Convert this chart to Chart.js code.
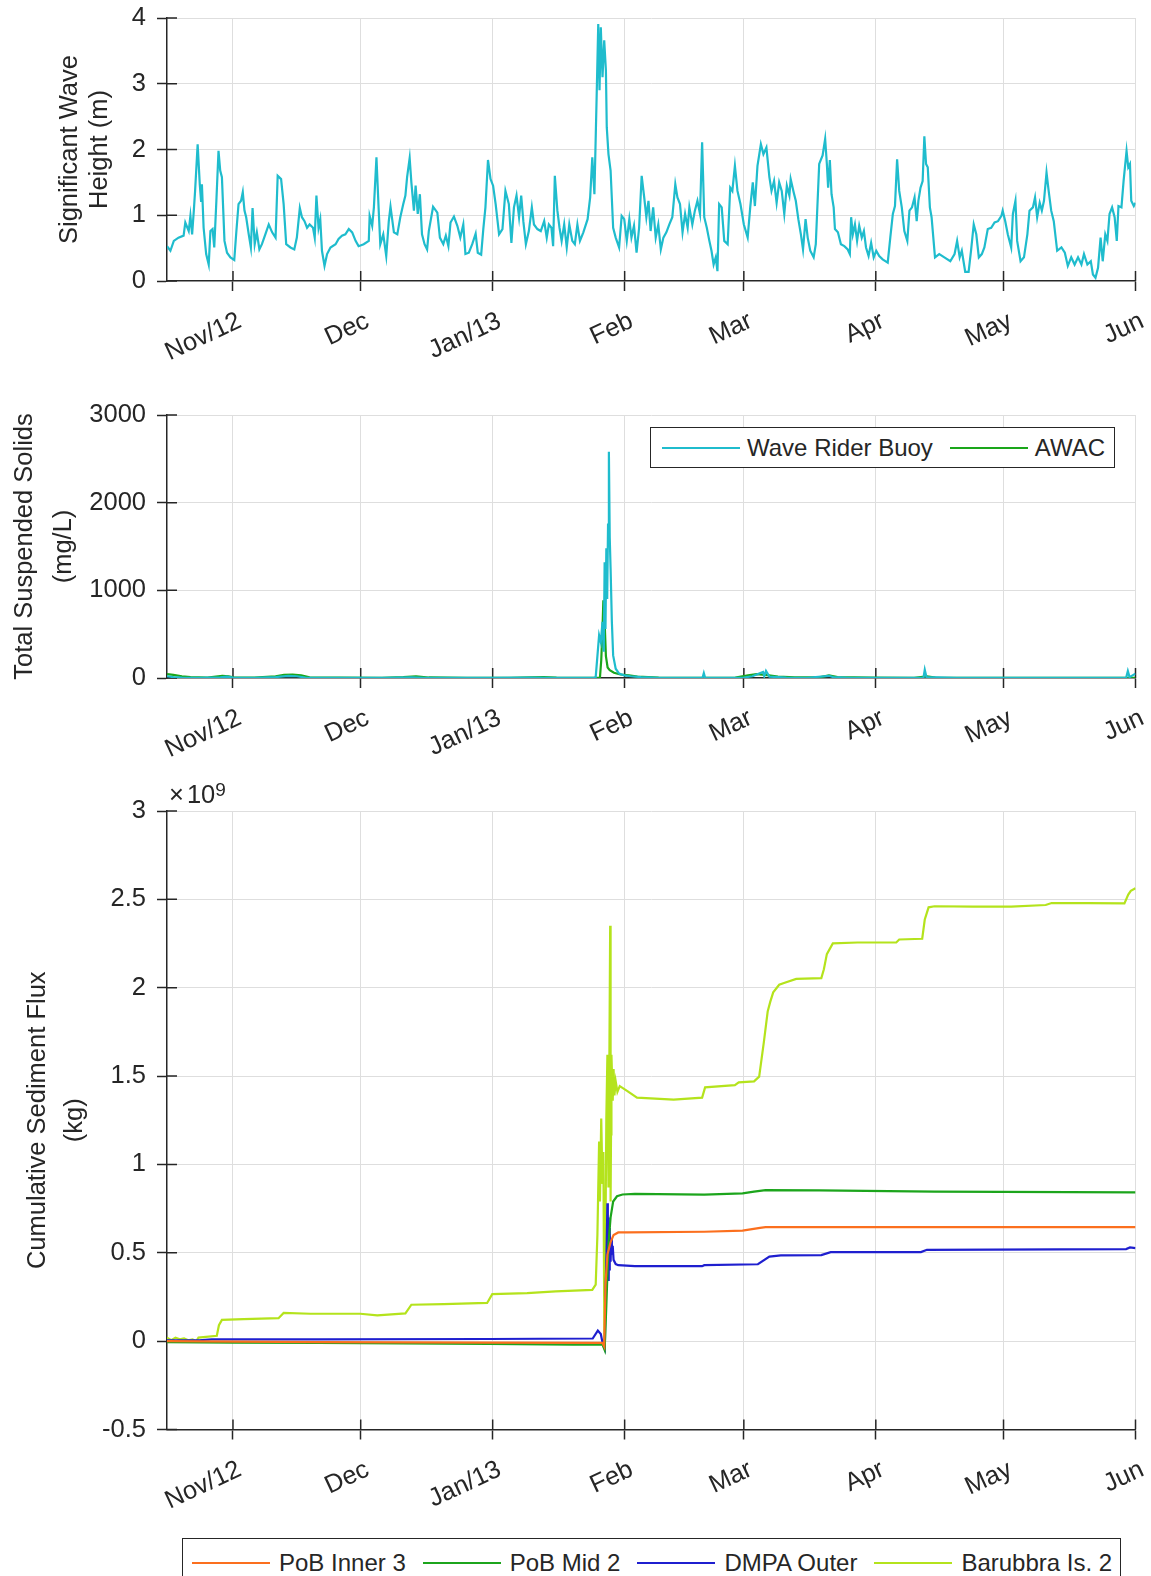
<!DOCTYPE html>
<html>
<head>
<meta charset="utf-8">
<script src="https://cdn.jsdelivr.net/npm/chart.js@4.4.1/dist/chart.umd.min.js"></script>
<style>
	html, body { margin: 0; padding: 0; background: #fff; }
	body { width: 1151px; height: 1576px; overflow: hidden; position: relative; font-family: 'Liberation Sans', Arial, sans-serif; color: #262626; }
	.panel { position: absolute; left: 0; }
	.legend { position: absolute; background: #fff; border: 1.3px solid #262626; box-sizing: border-box; display: flex; align-items: center; font-size: 24px; white-space: nowrap; }
	.legend .swatch { display: inline-block; height: 2px; }
	#exponent { position: absolute; left: 169px; top: 781px; font-size: 25.5px; line-height: 26px; white-space: nowrap; }
	#exponent .times { margin-right: 3px; }
	#exponent sup { font-size: 19px; position: relative; top: -4px; vertical-align: top; }
</style>
</head>
<body>

<div class="panel" style="top:0"><canvas id="chart-wave" width="1151" height="390"></canvas></div>
<div class="panel" style="top:390px"><canvas id="chart-tss" width="1151" height="390"></canvas></div>
<div class="panel" style="top:780px"><canvas id="chart-flux" width="1151" height="750"></canvas></div>
<div id="exponent"><span class="times">&times;</span>10<sup>9</sup></div>
<div class="legend" id="legend-tss" style="left:650px; top:427px; width:465px; height:41px; padding-left:11px;"></div>
<div class="legend" id="legend-flux" style="left:182px; top:1538px; width:939px; height:48px; padding-left:9px; align-items:flex-start; padding-top:10px;"></div>

<script>
// x values are days from 1 Nov 2012
var monthDays = [0, 30, 61, 92, 120, 151, 181, 212];
var monthLabels = ['Nov/12', 'Dec', 'Jan/13', 'Feb', 'Mar', 'Apr', 'May', 'Jun'];

// significant wave height (m)
var waveDays = [
	-15.5, -14.7, -13.9, -12.8, -11.6, -11.2, -10.4, -10.0, -9.6, -9.2, -8.9, -8.3, -7.8, -7.5, -7.3, -6.9, -6.3, -5.7, -5.3, -4.8,
	-4.4, -3.9, -3.4, -3.0, -2.6, -2.0, -1.4, -0.6, 0.3, 0.8, 1.3, 1.9, 2.3, 2.7, 3.1, 3.7, 4.2, 4.6, 5.1, 5.6,
	6.2, 6.8, 7.6, 8.4, 9.2, 10.0, 10.5, 11.3, 11.9, 12.5, 13.5, 14.4, 15.0, 15.7, 16.2, 16.8, 17.4, 18.0, 18.8, 19.2,
	19.6, 20.1, 20.5, 20.9, 21.5, 22.1, 22.9, 24.1, 24.8, 25.6, 26.4, 27.2, 28.0, 28.8, 29.5, 30.7, 31.9, 32.1, 32.7, 33.1,
	33.7, 34.2, 34.6, 35.3, 36.0, 36.6, 37.0, 37.8, 38.6, 39.3, 40.0, 40.5, 40.9, 41.5, 41.9, 42.5, 42.9, 43.4, 43.9, 44.4,
	45.0, 45.6, 46.0, 47.0, 48.0, 48.6, 49.4, 50.0, 50.6, 51.1, 51.9, 52.7, 53.4, 54.1, 54.6, 55.4, 56.2, 57.0, 57.5, 58.3,
	58.8, 59.3, 59.9, 60.5, 61.1, 61.7, 62.5, 63.3, 64.0, 64.8, 65.4, 66.0, 66.6, 67.2, 67.7, 68.2, 68.8, 69.5, 70.2, 70.7,
	71.5, 72.3, 73.1, 73.7, 74.2, 74.8, 75.2, 75.6, 76.2, 76.7, 77.2, 77.8, 78.4, 79.0, 79.7, 80.3, 80.9, 81.5, 82.3, 83.3,
	83.9, 84.4, 84.9, 85.4, 85.8, 86.1, 86.4, 86.8, 87.2, 87.6, 87.8, 88.2, 88.7, 89.3, 89.9, 90.7, 91.3, 91.9, 92.5, 93.1,
	93.6, 94.2, 94.8, 95.4, 96.0, 96.6, 97.1, 97.6, 98.1, 98.7, 99.3, 99.9, 100.5, 101.1, 101.8, 102.5, 103.2, 103.9, 104.4, 105.0,
	105.6, 106.2, 106.8, 107.2, 107.9, 108.5, 109.1, 109.7, 110.2, 110.7, 111.3, 111.9, 112.4, 112.9, 113.4, 113.8, 114.2, 114.8, 115.4, 116.2,
	116.8, 117.3, 117.9, 118.5, 119.2, 120.0, 120.9, 121.5, 122.1, 122.6, 123.2, 124.0, 124.6, 125.3, 126.0, 126.5, 127.1, 127.7, 128.3, 128.9,
	129.5, 130.1, 130.7, 131.0, 131.7, 132.2, 132.8, 133.4, 133.9, 134.5, 135.0, 135.6, 136.4, 136.9, 137.7, 138.5, 139.1, 139.5, 139.8, 140.2,
	140.6, 141.1, 141.4, 142.1, 142.8, 143.6, 144.4, 144.9, 145.2, 145.6, 146.1, 146.6, 147.1, 147.7, 148.2, 148.7, 149.3, 149.9, 150.5, 151.1,
	151.8, 152.6, 153.8, 154.4, 155.0, 155.5, 156.0, 156.5, 157.1, 157.7, 158.4, 158.9, 159.5, 160.1, 160.6, 161.0, 161.5, 162.0, 162.4, 162.8,
	163.2, 163.7, 164.1, 164.9, 165.9, 167.1, 168.5, 169.5, 170.1, 170.7, 171.2, 172.0, 172.8, 173.4, 174.0, 174.6, 175.2, 175.9, 176.5, 177.3,
	178.1, 178.9, 179.7, 180.5, 180.8, 181.4, 182.0, 182.8, 183.2, 183.8, 184.2, 185.0, 185.8, 186.6, 187.1, 187.9, 188.4, 188.9, 189.5, 190.0,
	190.5, 191.1, 191.6, 192.2, 192.8, 193.6, 194.6, 195.4, 196.1, 196.9, 197.7, 198.5, 199.3, 199.9, 200.7, 201.5, 202.0, 202.6, 203.2, 203.8,
	204.3, 204.9, 205.4, 205.9, 206.5, 207.1, 207.6, 208.0, 208.7, 209.2, 209.9, 210.3, 210.7, 211.0, 211.6, 212.0
];
var waveHs = [
	0.53, 0.46, 0.61, 0.66, 0.69, 0.89, 0.76, 0.99, 0.71, 1.07, 1.37, 2.08, 1.47, 1.22, 1.47, 0.81, 0.41, 0.25, 0.76, 0.79,
	0.51, 1.22, 1.98, 1.68, 1.58, 0.61, 0.43, 0.36, 0.32, 0.76, 1.17, 1.22, 1.35, 1.07, 0.97, 0.71, 0.51, 1.11, 0.56, 0.74,
	0.48, 0.56, 0.71, 0.86, 0.74, 0.66, 1.60, 1.55, 1.17, 0.56, 0.51, 0.48, 0.66, 1.11, 0.97, 0.91, 0.81, 0.86, 0.81, 0.66,
	1.30, 0.81, 0.94, 0.46, 0.23, 0.41, 0.51, 0.56, 0.64, 0.69, 0.71, 0.79, 0.74, 0.61, 0.53, 0.56, 0.61, 0.99, 0.84, 1.12,
	1.88, 1.12, 0.56, 0.71, 0.38, 0.91, 1.13, 0.74, 0.71, 0.97, 1.17, 1.30, 1.58, 1.87, 1.50, 1.07, 1.45, 1.02, 1.32, 0.71,
	0.56, 0.48, 0.76, 1.13, 1.04, 0.66, 0.56, 0.69, 0.53, 0.89, 0.98, 0.84, 0.66, 0.86, 0.41, 0.43, 0.56, 0.72, 0.43, 0.40,
	0.79, 1.12, 1.84, 1.55, 1.45, 1.17, 0.71, 0.79, 1.37, 1.17, 0.58, 1.12, 1.30, 0.97, 1.30, 0.91, 0.56, 0.76, 1.12, 0.86,
	0.79, 0.76, 0.91, 0.66, 0.86, 0.81, 0.53, 1.60, 1.07, 0.81, 0.61, 0.86, 0.51, 0.86, 0.61, 0.56, 0.86, 0.61, 0.74, 0.94,
	1.27, 1.88, 1.32, 2.74, 3.91, 2.90, 3.86, 3.10, 3.66, 3.20, 2.34, 1.93, 1.68, 0.81, 0.66, 0.51, 0.99, 0.94, 0.61, 0.94,
	0.66, 0.84, 0.43, 0.81, 1.60, 1.27, 0.97, 1.22, 0.76, 1.12, 0.66, 0.86, 0.48, 0.66, 0.74, 0.86, 0.97, 1.47, 1.27, 1.17,
	0.74, 1.02, 0.81, 1.12, 0.86, 1.07, 1.22, 1.02, 2.11, 0.97, 0.81, 0.61, 0.46, 0.25, 0.36, 0.15, 1.17, 1.12, 0.61, 0.56,
	1.42, 1.37, 1.75, 1.37, 1.17, 0.86, 0.66, 1.12, 1.50, 1.14, 1.75, 2.08, 1.93, 2.03, 1.58, 1.37, 1.52, 1.19, 1.50, 1.37,
	1.02, 1.45, 1.30, 1.55, 1.35, 1.22, 0.94, 0.71, 0.48, 0.94, 0.66, 0.46, 0.36, 0.56, 1.78, 1.91, 2.16, 1.78, 1.42, 1.84,
	1.32, 1.12, 0.79, 0.74, 0.56, 0.53, 0.48, 0.41, 0.97, 0.71, 0.86, 0.61, 0.84, 0.66, 0.76, 0.51, 0.38, 0.58, 0.36, 0.46,
	0.38, 0.33, 0.28, 0.66, 1.02, 1.14, 1.85, 1.37, 1.12, 0.76, 0.61, 1.07, 1.12, 1.27, 0.91, 1.22, 1.42, 1.52, 2.20, 1.78,
	1.73, 1.12, 0.97, 0.36, 0.41, 0.36, 0.30, 0.41, 0.61, 0.36, 0.46, 0.14, 0.14, 0.48, 0.86, 0.71, 0.36, 0.41, 0.51, 0.79,
	0.81, 0.89, 0.91, 0.99, 1.07, 0.91, 0.71, 0.51, 1.02, 1.22, 0.61, 0.30, 0.36, 0.71, 1.07, 1.12, 1.27, 0.97, 1.19, 1.07,
	1.22, 1.65, 1.37, 1.07, 0.91, 0.46, 0.51, 0.43, 0.23, 0.36, 0.25, 0.36, 0.25, 0.41, 0.25, 0.30, 0.10, 0.05, 0.20, 0.66,
	0.30, 0.71, 0.61, 1.02, 1.12, 0.97, 0.61, 1.14, 1.12, 1.52, 1.98, 1.73, 1.78, 1.22, 1.14, 1.19
];

// total suspended solids (mg/L)
var tssBuoyDays = [
	-15.5, -14, -12, -8, -3, -1.5, 0, 5, 10, 13, 15, 17, 25, 35, 42, 45, 55, 60, 70, 75,
	80, 84.8, 85.2, 86.0, 86.4, 86.8, 87.1, 87.3, 87.5, 87.7, 87.9, 88.1, 88.3, 88.5, 88.7, 89.0, 89.3, 89.9, 90.7, 91.9,
	93.4, 95.8, 100, 105, 110.3, 110.6, 110.9, 115, 120, 122, 124.5, 124.8, 125.2, 126, 130, 135, 140, 141, 145, 150,
	155, 162.2, 162.5, 162.9, 170, 180, 190, 200, 209.8, 210.2, 210.6, 212
];
var tssBuoy = [
	20, 10, 5, 3, 8, 15, 5, 3, 10, 25, 20, 5, 3, 2, 8, 3, 2, 3, 5, 3,
	2, 3, 10, 487, 410, 640, 300, 1320, 560, 1480, 900, 1750, 2580, 1600, 1250, 640, 258, 106, 50, 30,
	20, 10, 3, 2, 3, 55, 3, 2, 5, 20, 70, 20, 80, 15, 5, 3, 25, 10, 2, 3,
	2, 3, 95, 10, 2, 2, 3, 2, 3, 80, 10, 50
];
var tssAwacDays = [
	-15.5, -14, -12, -10, -6, -2.5, -1, 0, 5, 10, 12, 14, 16, 18, 25, 35, 40, 43, 46, 55,
	65, 70, 73, 76, 84, 86.2, 86.5, 86.8, 87.0, 87.3, 87.6, 88.0, 88.5, 89.5, 91, 93, 95, 100, 110, 118,
	121, 123, 125, 128, 132, 138, 140, 142, 150, 160, 163, 165, 175, 190, 200, 212
];
var tssAwac = [
	45, 35, 20, 10, 5, 25, 20, 8, 5, 20, 35, 40, 30, 8, 4, 3, 10, 18, 6, 3,
	3, 6, 10, 4, 3, 5, 200, 560, 886, 640, 250, 120, 90, 60, 40, 30, 15, 5, 3, 5,
	30, 45, 35, 15, 8, 10, 30, 10, 4, 3, 20, 5, 3, 3, 2, 3
];

// cumulative sediment flux (x 10^9 kg)
var fluxInnerDays = [-15.5, 20, 60, 86.8, 87.2, 87.5, 87.95, 88.7, 89.4, 90.5, 92.65, 110.7, 119.7, 123.8, 125.1, 212];
var fluxInner = [0.0, -0.005, -0.008, -0.01, -0.03, 0.32, 0.49, 0.56, 0.60, 0.615, 0.615, 0.619, 0.625, 0.641, 0.645, 0.645];

var fluxMidDays = [-15.5, 0, 20, 40, 60, 80, 86.8, 87.3, 87.7, 88.2, 88.7, 89.3, 90.2, 91.5, 94.4, 110.7, 119.7, 122.4, 125.1, 137.7, 164.8, 212];
var fluxMid = [-0.005, -0.008, -0.01, -0.013, -0.016, -0.02, -0.02, -0.05, 0.2, 0.55, 0.7, 0.79, 0.82, 0.83, 0.833, 0.829, 0.836, 0.846, 0.855, 0.853, 0.846, 0.842];

var fluxOuterDays = [
	-15.5, -8, -5, 20, 60, 84.5, 85.7, 86.4, 86.9, 87.35, 87.5, 87.75, 87.95, 88.05, 88.15, 88.25, 88.35, 88.45, 88.55, 88.7,
	88.85, 89.0, 89.2, 89.4, 89.9, 90.5, 94.4, 110.2, 110.7, 123.3, 126.0, 128.7, 138.2, 140.4, 161.6, 163.0, 209.8, 210.7, 212
];
var fluxOuter = [
	0.005, 0.005, 0.01, 0.01, 0.012, 0.015, 0.06, 0.04, -0.02, -0.045, 0.28, 0.50, 0.78, 0.36, 0.70, 0.34, 0.64, 0.40, 0.62, 0.45,
	0.58, 0.49, 0.54, 0.46, 0.436, 0.43, 0.424, 0.424, 0.43, 0.435, 0.478, 0.485, 0.487, 0.504, 0.504, 0.517, 0.521, 0.53, 0.526
];

var fluxBarubbraDays = [
	-15.5, -14.5, -13.5, -12.5, -11.5, -10.5, -9.5, -8.6, -8.1, -3.8, -3.3, -2.6, 2.5, 10.7, 11.9, 18.2, 29.9, 33.9, 40.5, 41.9,
	49.5, 59.7, 60.9, 69.1, 75.8, 84.4, 85.2, 85.6, 86.0, 86.2, 86.5, 86.8, 87.0, 87.25, 87.5, 87.7, 87.95, 88.2, 88.4, 88.6,
	88.7, 88.8, 88.9, 89.2, 89.4, 89.6, 89.9, 90.3, 90.85, 92.65, 94.9, 103.5, 110.2, 110.9, 117.9, 118.8, 122.4, 123.6, 124.7, 125.6,
	126.2, 126.9, 128.3, 129.6, 132.3, 138.2, 138.8, 139.5, 140.9, 146.7, 155.8, 156.5, 161.9, 162.5, 163.4, 164.8, 173.8, 182.8, 190.9, 192.3,
	200.8, 209.4, 210.3, 210.9, 212
];
var fluxBarubbra = [
	0.02, 0.005, 0.02, 0.01, 0.015, 0.005, 0.01, 0.0, 0.02, 0.03, 0.09, 0.12, 0.125, 0.13, 0.16, 0.155, 0.155, 0.146, 0.157, 0.206,
	0.21, 0.216, 0.266, 0.272, 0.282, 0.29, 0.32, 0.60, 1.13, 0.79, 1.26, 0.89, 1.07, -0.04, 0.60, 1.26, 1.62, 0.87, 1.54, 2.35,
	0.79, 1.17, 1.62, 1.36, 1.54, 1.39, 1.47, 1.41, 1.443, 1.415, 1.378, 1.367, 1.378, 1.436, 1.449, 1.464, 1.47, 1.497, 1.692, 1.865,
	1.92, 1.974, 2.017, 2.028, 2.05, 2.054, 2.104, 2.19, 2.251, 2.256, 2.256, 2.273, 2.277, 2.386, 2.455, 2.461, 2.459, 2.459, 2.468, 2.479,
	2.479, 2.477, 2.527, 2.548, 2.563
];

var axisColor = '#262626';
var gridColor = '#dedede';
var fontFamily = "'Liberation Sans', Arial, sans-serif";

function points(xs, ys) {
	return xs.map(function(x, i) { return { x: x, y: ys[i] }; });
}

function lineSet(label, xs, ys, color) {
	return {
		label: label,
		data: points(xs, ys),
		borderColor: color,
		backgroundColor: color,
		borderWidth: 2.2,
		pointRadius: 0,
		tension: 0
	};
}

// MATLAB style ticks point both ways, the library only draws them outward
var innerTicks = {
	id: 'innerTicks',
	beforeDatasetsDraw: function(chart) {
		var ctx = chart.ctx;
		var area = chart.chartArea;
		var xs = chart.scales.x;
		var ys = chart.scales.y;
		ctx.save();
		ctx.strokeStyle = axisColor;
		ctx.lineWidth = 1.5;
		ctx.beginPath();
		xs.ticks.forEach(function(t) {
			var px = xs.getPixelForValue(t.value);
			ctx.moveTo(px, area.bottom);
			ctx.lineTo(px, area.bottom - 10);
		});
		ys.ticks.forEach(function(t) {
			var py = ys.getPixelForValue(t.value);
			ctx.moveTo(area.left, py);
			ctx.lineTo(area.left + 10, py);
		});
		ctx.stroke();
		ctx.restore();
	}
};

function makeConfig(datasets, y, padTop, xHeight) {
	return {
		type: 'line',
		data: { datasets: datasets },
		plugins: [innerTicks],
		options: {
			responsive: false,
			animation: false,
			events: [],
			layout: { padding: { top: padTop, right: 15.5, bottom: 0, left: 0 } },
			plugins: { legend: { display: false }, tooltip: { enabled: false } },
			scales: {
				x: {
					type: 'linear',
					min: -15.5,
					max: 212,
					afterBuildTicks: function(scale) {
						scale.ticks = monthDays.map(function(d) { return { value: d }; });
					},
					afterFit: function(scale) {
						scale.height = xHeight;
						scale.paddingLeft = 0;
						scale.paddingRight = 0;
					},
					border: { display: true, color: axisColor, width: 1.5 },
					grid: { color: gridColor, lineWidth: 1, tickColor: axisColor, tickLength: 10, tickWidth: 1.5 },
					ticks: {
						autoSkip: false,
						minRotation: 25,
						maxRotation: 25,
						padding: 15,
						labelOffset: 7,
						color: axisColor,
						font: { family: fontFamily, size: 25.5 },
						callback: function(value) {
							var i = monthDays.indexOf(value);
							return i >= 0 ? monthLabels[i] : '';
						}
					}
				},
				y: {
					min: y.min,
					max: y.max,
					afterFit: function(scale) {
						scale.width = 167;
						scale.paddingTop = 0;
						scale.paddingBottom = 0;
					},
					border: { display: true, color: axisColor, width: 1.5 },
					grid: {
						color: function(c) { return c.tick && c.tick.value === y.min ? 'rgba(0,0,0,0)' : gridColor; },
						lineWidth: 1,
						tickColor: axisColor,
						tickLength: 10,
						tickWidth: 1.5
					},
					ticks: {
						stepSize: y.step,
						padding: 11,
						color: axisColor,
						font: { family: fontFamily, size: 25.5 },
						callback: function(value) { return String(value); }
					},
					title: {
						display: true,
						text: y.title,
						color: axisColor,
						font: { family: fontFamily, size: 25.5, lineHeight: y.titleLine },
						padding: { top: y.titlePad, bottom: 0 }
					}
				}
			}
		}
	};
}

function buildLegend(el, chart, sampleWidth, sampleGap, itemGap) {
	chart.data.datasets.forEach(function(ds, i) {
		var sw = document.createElement('span');
		sw.className = 'swatch';
		sw.style.width = sampleWidth + 'px';
		sw.style.background = ds.borderColor;
		sw.style.marginRight = sampleGap + 'px';
		var tx = document.createElement('span');
		tx.textContent = ds.label;
		if (i < chart.data.datasets.length - 1) tx.style.marginRight = itemGap + 'px';
		if (el.id === 'legend-flux') {
			sw.style.marginTop = '13px';
		}
		el.appendChild(sw);
		el.appendChild(tx);
	});
}

var chartWave = new Chart(document.getElementById('chart-wave').getContext('2d'), makeConfig(
	[lineSet('Wave Rider Buoy', waveDays, waveHs, '#1fbccd')],
	{ min: 0, max: 4, step: 1, title: ['Significant Wave', 'Height (m)'], titleLine: '30px', titlePad: 55 },
	18, 109
));

var chartTss = new Chart(document.getElementById('chart-tss').getContext('2d'), makeConfig(
	[
		lineSet('Wave Rider Buoy', tssBuoyDays, tssBuoy, '#1fbccd'),
		lineSet('AWAC', tssAwacDays, tssAwac, '#1aa61a')
	],
	{ min: 0, max: 3000, step: 1000, title: ['Total Suspended Solids', '(mg/L)'], titleLine: '39.5px', titlePad: 5 },
	25, 102
));

var chartFlux = new Chart(document.getElementById('chart-flux').getContext('2d'), makeConfig(
	[
		lineSet('PoB Inner 3', fluxInnerDays, fluxInner, '#fb6f1e'),
		lineSet('PoB Mid 2', fluxMidDays, fluxMid, '#1ca51c'),
		lineSet('DMPA Outer', fluxOuterDays, fluxOuter, '#1f1fcf'),
		lineSet('Barubbra Is. 2', fluxBarubbraDays, fluxBarubbra, '#b4e31c')
	],
	{ min: -0.5, max: 3, step: 0.5, title: ['Cumulative Sediment Flux', '(kg)'], titleLine: '37px', titlePad: 19.5 },
	31, 100.5
));

buildLegend(document.getElementById('legend-tss'), chartTss, 78, 7, 17);
buildLegend(document.getElementById('legend-flux'), chartFlux, 78, 9, 17);
</script>
</body>
</html>
